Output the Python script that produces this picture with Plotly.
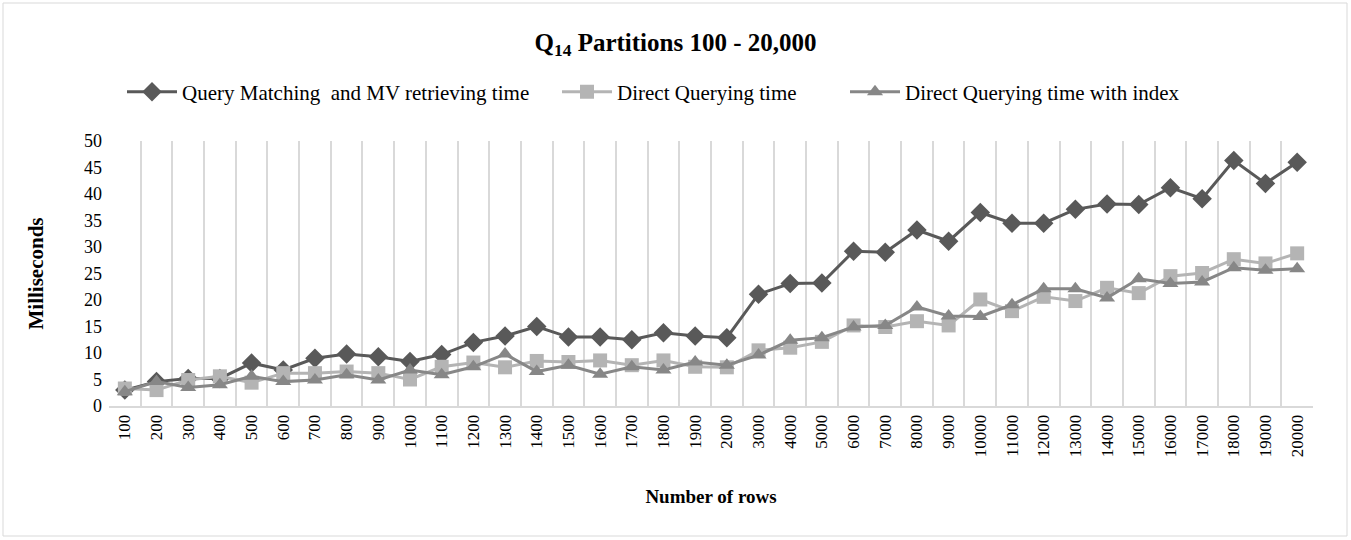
import plotly.graph_objects as go

# Q14 partitions, number of rows vs milliseconds
rows = [str(v) for v in list(range(100, 2001, 100)) + list(range(3000, 20001, 1000))]

mv_time = [3.0, 4.6, 5.2, 5.2, 8.1, 6.8, 9.0, 9.8, 9.3, 8.4,
           9.7, 12.0, 13.2, 15.0, 13.0, 13.0, 12.5, 13.8, 13.2, 12.9,
           21.1, 23.1, 23.2, 29.2, 29.0, 33.2, 31.1, 36.5, 34.5, 34.5,
           37.1, 38.1, 38.0, 41.2, 39.1, 46.3, 42.0, 46.0]

direct_time = [3.3, 3.0, 4.9, 5.6, 4.4, 6.2, 6.2, 6.5, 6.2, 5.0,
               7.4, 8.2, 7.3, 8.5, 8.3, 8.6, 7.7, 8.6, 7.4, 7.3,
               10.5, 11.0, 12.1, 15.2, 14.9, 16.0, 15.2, 20.1, 17.9, 20.6,
               19.8, 22.3, 21.3, 24.5, 25.1, 27.7, 26.9, 28.8]

index_time = [2.7, 4.6, 3.5, 4.0, 5.6, 4.6, 4.9, 5.9, 4.9, 6.8,
              5.9, 7.4, 9.8, 6.5, 7.7, 6.0, 7.4, 6.8, 8.3, 7.7,
              9.6, 12.4, 12.9, 14.9, 15.2, 18.7, 17.0, 16.9, 19.1, 22.1,
              22.1, 20.4, 24.0, 23.1, 23.4, 26.1, 25.6, 25.9]

# name, values, colour, marker, marker size, legend slot
series = [
    ("Query Matching \u00a0and MV retrieving time", mv_time, "#595959", "diamond", 15, "legend"),
    ("Direct Querying time", direct_time, "#B4B4B4", "square", 14, "legend2"),
    ("Direct Querying time with index", index_time, "#878787", "triangle-up", 14, "legend3"),
]

fig = go.Figure()
for name, vals, col, sym, size, leg in series:
    fig.add_trace(
        go.Scatter(
            x=rows,
            y=vals,
            mode="lines+markers",
            name=name,
            legend=leg,
            line=dict(color=col, width=3),
            marker=dict(symbol=sym, size=size, color=col),
        )
    )

font = "Liberation Serif, Times New Roman, serif"


def legend_at(left):
    return dict(
        orientation="h",
        x=left / 1351,
        xref="container",
        xanchor="left",
        y=1 - 92 / 540,
        yref="container",
        yanchor="middle",
        font=dict(size=21),
        itemwidth=50,
        bgcolor="rgba(0,0,0,0)",
    )


fig.update_layout(
    width=1351,
    height=540,
    paper_bgcolor="white",
    plot_bgcolor="white",
    margin=dict(l=109, r=38, t=141, b=134, autoexpand=False),
    font=dict(family=font, size=17, color="black"),
    title=dict(
        text="<b>Q<sub>14</sub> Partitions 100 - 20,000</b>",
        x=0.5,
        xref="container",
        xanchor="center",
        y=1 - 42 / 540,
        yref="container",
        yanchor="middle",
        font=dict(size=25),
    ),
    legend=legend_at(122),
    legend2=legend_at(557),
    legend3=legend_at(845),
    showlegend=True,
)

fig.update_xaxes(
    type="category",
    range=[-0.5, len(rows) - 0.5],
    tickson="boundaries",
    showgrid=True,
    gridcolor="#D9D9D9",
    gridwidth=2,
    showline=True,
    linecolor="#D9D9D9",
    linewidth=2,
    ticks="",
    tickangle=-90,
    tickfont=dict(size=17),
    automargin=False,
    title=dict(text="<b>Number of rows</b>", font=dict(size=19), standoff=33),
)

fig.update_yaxes(
    range=[0, 50],
    dtick=5,
    showgrid=False,
    zeroline=False,
    showline=False,
    ticks="",
    tickfont=dict(size=18),
    ticklabelstandoff=6,
    automargin=False,
    title=dict(text="<b>Milliseconds</b>", font=dict(size=21), standoff=34),
)

# outer chart border
fig.add_shape(
    type="rect",
    xref="paper",
    yref="paper",
    x0=(3 - 109) / 1204,
    x1=(1347 - 109) / 1204,
    y0=(406 - 536) / 265,
    y1=(406 - 3) / 265,
    line=dict(color="#D9D9D9", width=1),
    layer="below",
)

fig.write_html(
    "out.html",
    config={"displayModeBar": False},
    post_script="document.body.style.margin='0';",
)
